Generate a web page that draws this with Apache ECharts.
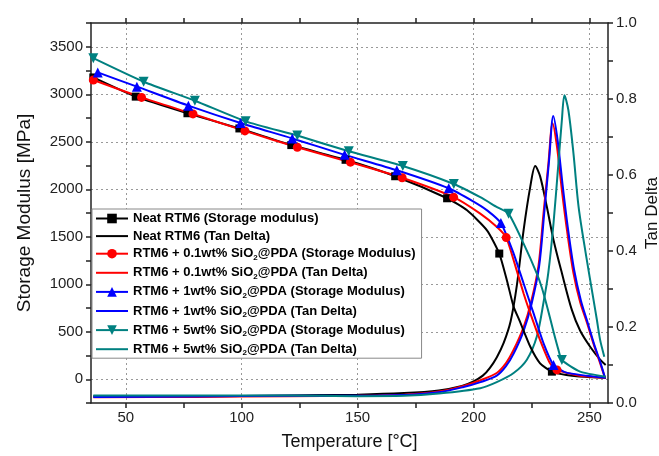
<!DOCTYPE html>
<html lang="en">
<head>
    <meta charset='utf-8' />
    <title>storage modulus / tan delta</title>
    <script src="https://cdn.jsdelivr.net/npm/echarts@6.0.0/dist/echarts.min.js"></script>
    <style>
        html, body { margin: 0; padding: 0; background: #fff; }
        #chart { width: 659px; height: 456px; }
    </style>
</head>
<body>
<div id="chart"></div>

<script>
    // axis ticks / labels
    var tempTicks = [50, 75, 100, 125, 150, 175, 200, 225, 250];
    var tempLabels = [50, 100, 150, 200, 250];
    var modLabels = [0, 500, 1000, 1500, 2000, 2500, 3000, 3500];
    var tanLabels = [0, 0.2, 0.4, 0.6, 0.8, 1.0];

    // storage modulus [MPa] : points with markers, and extra curve points
    var neatSmMarks = [[36.0, 3177], [54.3, 2975], [76.6, 2800], [99.0, 2640], [121.4, 2465], [144.8, 2310], [166.2, 2137], [188.6, 1905], [211.1, 1323], [233.8, 80]];
    var neatSmCurve = [[197.2, 1778], [205.8, 1568], [214.4, 1040], [217.3, 762], [219.8, 620], [224.5, 342], [228.7, 168], [240, 45], [248, 25], [257, 15]];
    var redSmMarks = [[36.0, 3150], [56.8, 2967], [79.0, 2793], [101.4, 2614], [124.0, 2442], [146.9, 2285], [169.2, 2121], [191.4, 1917], [214.1, 1491], [236.0, 98]];
    var redSmCurve = [[202.9, 1743], [210.1, 1602], [217.3, 1253], [221.6, 903], [224.5, 693], [228.7, 413], [233, 168], [245, 40], [257, 15]];
    var blueSmMarks = [[37.9, 3230], [54.8, 3080], [77.0, 2880], [99.5, 2697], [121.8, 2535], [144.4, 2362], [166.9, 2200], [189.3, 2010], [211.8, 1644], [234.5, 150]];
    var blueSmCurve = [[200, 1870], [206, 1775], [217.3, 1323], [221.6, 1008], [225.9, 693], [230.2, 378], [240, 70], [257, 15]];
    var tealSmMarks = [[36.0, 3380], [57.7, 3132], [79.8, 2932], [101.7, 2715], [124.0, 2565], [146.2, 2400], [169.5, 2245], [191.5, 2055], [215.1, 1743], [238.1, 203]];
    var tealSmCurve = [[202.9, 1916], [210.1, 1812], [221.6, 1428], [227.3, 1113], [229.5, 960], [232, 740], [234.5, 500], [236.5, 320], [246, 80], [257, 27]];

    // tan delta
    var neatTan = [[36, 0.018], [80, 0.018], [120, 0.02], [150, 0.022], [170, 0.026], [185, 0.033], [195, 0.045], [200, 0.057], [204, 0.072], [207, 0.092], [210, 0.12], [213, 0.158], [216, 0.215], [218.7, 0.31], [221.6, 0.455], [224.5, 0.57], [226.6, 0.624], [228.7, 0.597], [231.6, 0.517], [234.5, 0.429], [238.1, 0.342], [242.4, 0.245], [246, 0.19], [250.3, 0.148], [254.6, 0.114], [257, 0.10]];
    var redTan = [[36, 0.015], [80, 0.016], [120, 0.018], [150, 0.019], [170, 0.022], [185, 0.03], [195.7, 0.045], [203, 0.06], [210, 0.079], [214, 0.105], [217.3, 0.14], [221.6, 0.2], [224.8, 0.265], [228, 0.36], [230.2, 0.5], [232.3, 0.63], [234.1, 0.736], [236, 0.674], [238.1, 0.56], [240.3, 0.455], [243.1, 0.342], [246, 0.265], [249, 0.21], [251.8, 0.155], [254.6, 0.105], [256.8, 0.064]];
    var blueTan = [[36, 0.016], [80, 0.017], [120, 0.019], [150, 0.019], [170, 0.021], [185, 0.028], [195.7, 0.042], [203, 0.055], [210, 0.072], [214, 0.097], [217.3, 0.13], [221.6, 0.19], [225, 0.26], [228.3, 0.36], [230.5, 0.5], [232.6, 0.64], [234.4, 0.755], [236.3, 0.69], [238.4, 0.575], [240.6, 0.465], [243.4, 0.35], [246.3, 0.27], [249.3, 0.21], [252, 0.155], [254.8, 0.105], [256.8, 0.064]];
    var tealTan = [[36, 0.02], [80, 0.02], [120, 0.02], [150, 0.018], [170, 0.019], [185, 0.025], [202.9, 0.039], [210, 0.055], [217.3, 0.079], [223, 0.114], [227.3, 0.175], [230.2, 0.265], [232.3, 0.345], [234.5, 0.473], [236.6, 0.63], [238.1, 0.744], [239.2, 0.81], [240.9, 0.771], [243.1, 0.657], [245.3, 0.517], [248.5, 0.39], [251.8, 0.27], [253.2, 0.219], [254.6, 0.166], [256.4, 0.122]];

    var names = [
        'Neat RTM6 (Storage modulus)',
        'Neat RTM6 (Tan Delta)',
        'RTM6 + 0.1wt% SiO2@PDA (Storage Modulus)',
        'RTM6 + 0.1wt% SiO2@PDA (Tan Delta)',
        'RTM6 + 1wt% SiO2@PDA (Storage Modulus)',
        'RTM6 + 1wt% SiO2@PDA (Tan Delta)',
        'RTM6 + 5wt% SiO2@PDA (Storage Modulus)',
        'RTM6 + 5wt% SiO2@PDA (Tan Delta)'
    ];
    var colors = ['#000000', '#ff0000', '#0000ff', '#008080'];

    var font = 'Liberation Sans, Arial, sans-serif';
    var axisColor = '#222';
    var gridLine = { show: true, lineStyle: { color: '#999', type: [2, 3], width: 1 } };
    // plain line icon for the tan delta legend rows (the extra moves fix the box)
    var lineIcon = 'path://M0,0M32,0M32,12M0,12M0,5L32,5L32,7L0,7Z';

    // merge marker points and plain curve points into one line
    function storageData(marks, curve) {
        var all = marks.map(function (p) { return { value: p }; })
            .concat(curve.map(function (p) { return { value: p, symbol: 'none' }; }));
        all.sort(function (a, b) { return a.value[0] - b.value[0]; });
        return all;
    }

    function storageSeries(name, color, symbol, size, marks, curve, rotate) {
        return {
            name: name,
            type: 'line',
            xAxisIndex: 0,
            yAxisIndex: 0,
            smooth: 0.2,
            symbol: symbol,
            symbolSize: size,
            symbolRotate: rotate || 0,
            showAllSymbol: true,
            itemStyle: { color: color },
            lineStyle: { color: color, width: 2 },
            data: storageData(marks, curve),
            z: 3
        };
    }

    function tanSeries(name, color, data) {
        return {
            name: name,
            type: 'line',
            xAxisIndex: 0,
            yAxisIndex: 2,
            smooth: 0.3,
            symbol: 'none',
            itemStyle: { color: color },
            lineStyle: { color: color, width: 2 },
            data: data,
            z: 2
        };
    }

    var chart = echarts.init(document.getElementById('chart'), null, { renderer: 'canvas' });

    var option = {
        animation: false,
        backgroundColor: '#fff',
        textStyle: { fontFamily: font },
        grid: { left: 91, right: 51, top: 23, bottom: 53, outerBoundsMode: 'none' },
        legend: {
            orient: 'vertical',
            left: 92,
            top: 209,
            padding: [3, 6, 1, 3],
            itemGap: 4.6,
            itemWidth: 32,
            itemHeight: 12,
            backgroundColor: '#fff',
            borderColor: '#888',
            borderWidth: 1,
            borderRadius: 0,
            data: names.map(function (n, i) {
                return i % 2 ? { name: n, icon: lineIcon } : { name: n };
            }),
            formatter: function (n) {
                return '{b|' + n.replace('SiO2', 'SiO}{s|2}{b|') + '}';
            },
            textStyle: {
                fontFamily: font,
                fontWeight: 'bold',
                fontSize: 13,
                color: '#000',
                rich: {
                    b: { fontFamily: font, fontWeight: 'bold', fontSize: 13, lineHeight: 16, color: '#000' },
                    s: { fontFamily: font, fontWeight: 'bold', fontSize: 8, lineHeight: 10, verticalAlign: 'bottom', color: '#000' }
                }
            }
        },
        xAxis: [
            {
                type: 'value',
                position: 'bottom',
                min: 35,
                max: 258,
                name: 'Temperature [°C]',
                nameLocation: 'middle',
                nameGap: 30,
                nameMoveOverlap: false,
                nameTextStyle: { fontFamily: font, fontSize: 18, color: '#111' },
                axisLine: { show: true, onZero: false, lineStyle: { color: axisColor, width: 1.5 } },
                axisTick: { show: true, length: 5, customValues: tempTicks, lineStyle: { color: axisColor, width: 1.5 } },
                axisLabel: { customValues: tempLabels, fontFamily: font, fontSize: 15, color: '#222', margin: 7 },
                splitLine: { show: false }
            },
            {
                type: 'value',
                position: 'top',
                min: 35,
                max: 258,
                axisLine: { show: true, onZero: false, lineStyle: { color: axisColor, width: 1.5 } },
                axisTick: { show: true, length: 5, customValues: tempTicks, lineStyle: { color: axisColor, width: 1.5 } },
                axisLabel: { show: false },
                splitLine: { show: false }
            },
            {
                // vertical grid lines only
                type: 'value',
                position: 'bottom',
                min: 35,
                max: 258,
                axisLine: { show: false, onZero: false },
                axisTick: { show: false, customValues: tempLabels },
                axisLabel: { show: false },
                splitLine: gridLine
            }
        ],
        yAxis: [
            {
                type: 'value',
                position: 'left',
                min: -250,
                max: 3750,
                interval: 250,
                name: 'Storage Modulus [MPa]',
                nameLocation: 'middle',
                nameRotate: 90,
                nameGap: 57,
                nameMoveOverlap: false,
                nameTextStyle: { fontFamily: font, fontSize: 19, color: '#111' },
                axisLine: { show: true, onZero: false, lineStyle: { color: axisColor, width: 1.5 } },
                axisTick: { show: true, length: 5, lineStyle: { color: axisColor, width: 1.5 } },
                axisLabel: {
                    customValues: modLabels, fontFamily: font, fontSize: 15, color: '#222', margin: 8,
                    formatter: function (v) { return String(v); }
                },
                splitLine: { show: false }
            },
            {
                // horizontal grid lines only
                type: 'value',
                position: 'left',
                min: -250,
                max: 3750,
                axisLine: { show: false, onZero: false },
                axisTick: { show: false, customValues: modLabels },
                axisLabel: { show: false },
                splitLine: gridLine
            },
            {
                type: 'value',
                position: 'right',
                min: 0,
                max: 1,
                interval: 0.1,
                name: 'Tan Delta',
                nameLocation: 'middle',
                nameRotate: 90,
                nameGap: 36,
                nameMoveOverlap: false,
                nameTextStyle: { fontFamily: font, fontSize: 17, color: '#111' },
                axisLine: { show: true, onZero: false, lineStyle: { color: axisColor, width: 1.5 } },
                axisTick: { show: true, length: 5, lineStyle: { color: axisColor, width: 1.5 } },
                axisLabel: {
                    customValues: tanLabels,
                    fontFamily: font, fontSize: 15, color: '#222', margin: 8,
                    formatter: function (v) { return v.toFixed(1); }
                },
                splitLine: { show: false }
            }
        ],
        series: [
            storageSeries(names[0], colors[0], 'rect', 8, neatSmMarks, neatSmCurve),
            tanSeries(names[1], colors[0], neatTan),
            storageSeries(names[2], colors[1], 'circle', 9, redSmMarks, redSmCurve),
            tanSeries(names[3], colors[1], redTan),
            storageSeries(names[4], colors[2], 'triangle', 10, blueSmMarks, blueSmCurve),
            tanSeries(names[5], colors[2], blueTan),
            storageSeries(names[6], colors[3], 'triangle', 10, tealSmMarks, tealSmCurve, 180),
            tanSeries(names[7], colors[3], tealTan)
        ]
    };

    option && chart.setOption(option);
</script>
</body>
</html>
